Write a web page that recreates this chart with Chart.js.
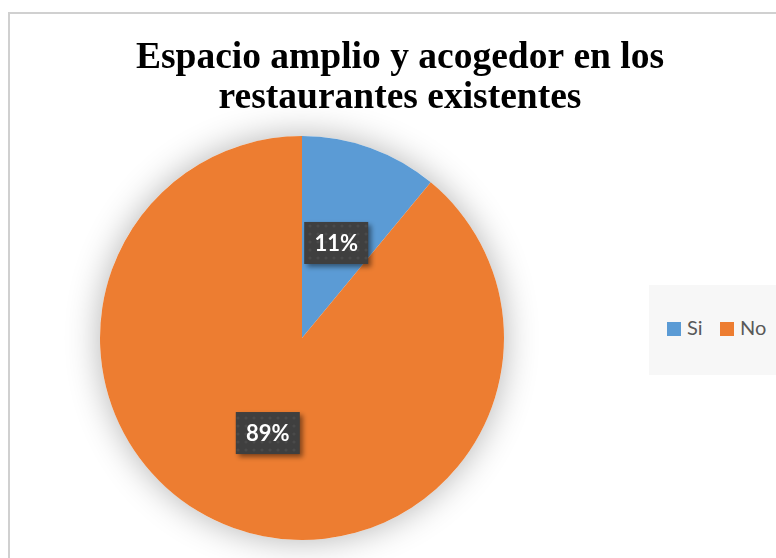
<!DOCTYPE html>
<html>
<head>
<meta charset="utf-8">
<script src="https://cdn.jsdelivr.net/npm/chart.js@4"></script>
<style>
  body { margin: 0; background: #fff; width: 776px; height: 558px; overflow: hidden; position: relative; }
  #marco { position: absolute; left: 8px; top: 12px; width: 780px; height: 560px; border: 2px solid #d0d0d0; background: #fff; }
  #leyenda { position: absolute; left: 649px; top: 285px; width: 140px; height: 90px; background: #f7f7f7;
             font-family: Lato, "Open Sans", sans-serif; font-size: 20px; color: #595959; }
  #leyenda span.item { position: absolute; top: 31px; line-height: 22px; }
  #leyenda span.cuadro { display: inline-block; width: 14px; height: 14px; margin-right: 6px; vertical-align: -1px; }
</style>
</head>
<body>
<div id="marco"><canvas id="grafica" width="780" height="560"></canvas></div>
<div id="leyenda"></div>
<script>
// datos de la grafica
const categorias = ['Si', 'No'];
const porcentajes = [11, 89];
const colores = ['#5B9BD5', '#ED7D31'];
const titulo = ['Espacio amplio y acogedor en los', 'restaurantes existentes'];

// espacio reservado a la derecha para la leyenda (no toca el titulo)
const espacioDerecha = {
    id: 'espacioDerecha',
    beforeInit(chart) {
        Chart.layouts.addBox(chart, {
            position: 'right',
            weight: 10,
            fullSize: false,
            options: {},
            width: 0,
            height: 0,
            isHorizontal() { return false; },
            update(maxWidth, maxHeight) { this.width = 196; this.height = maxHeight; },
            draw() {}
        });
    }
};

// sombra suave debajo del pastel
const sombraPastel = {
    id: 'sombraPastel',
    beforeDatasetsDraw(chart) {
        const arco = chart.getDatasetMeta(0).data[0];
        if (!arco) return;
        const ctx = chart.ctx;
        ctx.save();
        ctx.shadowColor = 'rgba(0,0,0,0.3)';
        ctx.shadowBlur = 34;
        ctx.fillStyle = '#ffffff';
        ctx.beginPath();
        ctx.arc(arco.x, arco.y, arco.outerRadius, 0, Math.PI * 2);
        ctx.fill();
        ctx.restore();
    }
};

// patron de puntitos para las etiquetas
function crearPatron(ctx) {
    const c = document.createElement('canvas');
    c.width = 8; c.height = 8;
    const p = c.getContext('2d');
    p.fillStyle = '#3f3f3f';
    p.fillRect(0, 0, 8, 8);
    p.fillStyle = '#4a4a4a';
    p.beginPath();
    p.arc(4, 4, 1.6, 0, Math.PI * 2);
    p.fill();
    return ctx.createPattern(c, 'repeat');
}

// etiquetas de porcentaje con caja oscura
const etiquetas = {
    id: 'etiquetas',
    afterDatasetsDraw(chart) {
        const ctx = chart.ctx;
        const patron = crearPatron(ctx);
        chart.getDatasetMeta(0).data.forEach((arco, i) => {
            const pos = arco.tooltipPosition();
            const w = 64, h = 42;
            ctx.save();
            ctx.shadowColor = 'rgba(0,0,0,0.45)';
            ctx.shadowBlur = 5;
            ctx.shadowOffsetX = 3;
            ctx.shadowOffsetY = 3;
            ctx.fillStyle = patron;
            ctx.fillRect(pos.x - w / 2, pos.y - h / 2, w, h);
            ctx.restore();
            ctx.save();
            ctx.fillStyle = '#ffffff';
            ctx.font = 'bold 22px Lato, "Open Sans", sans-serif';
            ctx.textAlign = 'center';
            ctx.textBaseline = 'middle';
            ctx.fillText(porcentajes[i] + '%', pos.x, pos.y + 1);
            ctx.restore();
        });
    }
};

const grafica = new Chart(document.getElementById('grafica'), {
    type: 'pie',
    data: {
        labels: categorias,
        datasets: [{
            data: porcentajes,
            backgroundColor: colores,
            borderWidth: 0
        }]
    },
    options: {
        responsive: false,
        animation: false,
        layout: { padding: { left: 0, right: 0, top: 0, bottom: 34 } },
        plugins: {
            legend: { display: false },
            tooltip: { enabled: false },
            title: {
                display: true,
                text: titulo,
                color: '#000000',
                font: { family: '"Liberation Serif", "Times New Roman", serif', size: 37.5, weight: 'bold', lineHeight: 1.08 },
                padding: { top: 24, bottom: 17 }
            }
        }
    },
    plugins: [espacioDerecha, sombraPastel, etiquetas]
});

// leyenda en html a partir de la grafica
const leyenda = document.getElementById('leyenda');
const posiciones = [18, 71];
grafica.options.plugins.legend.labels.generateLabels(grafica).forEach((item, i) => {
    const s = document.createElement('span');
    s.className = 'item';
    s.style.left = posiciones[i] + 'px';
    s.innerHTML = '<span class="cuadro" style="background:' + item.fillStyle + '"></span>' + item.text;
    leyenda.appendChild(s);
});
</script>
</body>
</html>
